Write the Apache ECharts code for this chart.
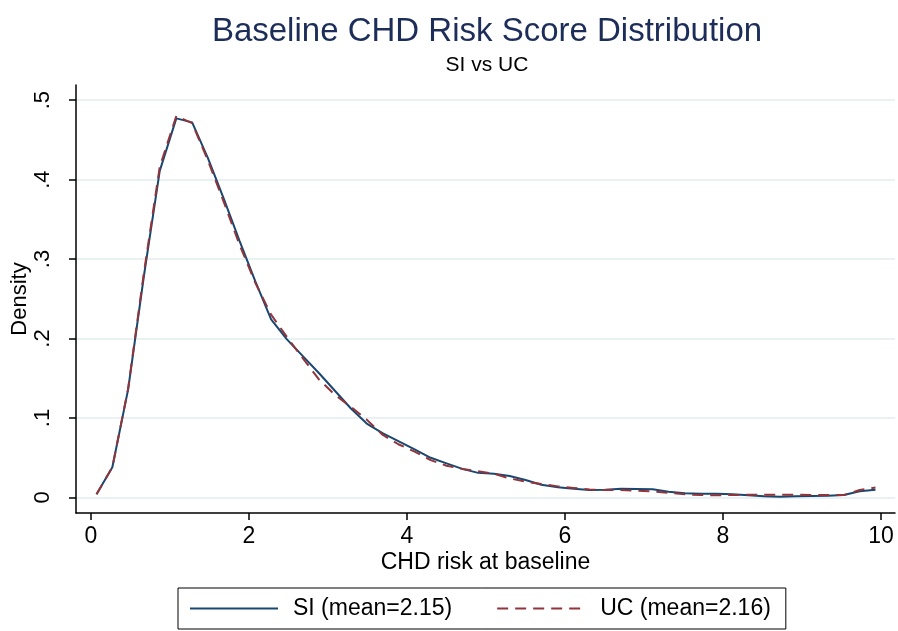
<!DOCTYPE html>
<html>
<head>
<meta charset="utf-8">
<script src="https://cdn.jsdelivr.net/npm/echarts@6/dist/echarts.min.js"></script>
<style>html,body{margin:0;padding:0;background:#fff;}#c{width:898px;height:631px;}</style>
</head>
<body>
<div id="c"></div>
<script>
const xGrid = [0.07,0.27,0.47,0.67,0.87,1.08,1.28,1.48,1.68,1.88,2.08,2.28,2.48,2.69,2.89,3.09,3.29,3.49,3.69,3.89,4.09,4.30,4.50,4.70,4.90,5.10,5.30,5.50,5.70,5.91,6.11,6.31,6.51,6.71,6.91,7.11,7.31,7.52,7.72,7.92,8.12,8.32,8.52,8.72,8.92,9.12,9.33,9.53,9.73,9.93];
const siDensity = [0.004,0.038,0.136,0.279,0.411,0.477,0.472,0.427,0.376,0.323,0.272,0.224,0.199,0.177,0.156,0.134,0.112,0.093,0.081,0.071,0.061,0.050,0.043,0.036,0.031,0.030,0.027,0.022,0.016,0.013,0.011,0.0095,0.0098,0.011,0.0107,0.0103,0.0073,0.0053,0.0048,0.0048,0.004,0.0028,0.0015,0.001,0.0015,0.0019,0.0023,0.0031,0.0078,0.0098];
const ucDensity = [0.004,0.038,0.137,0.283,0.416,0.480,0.471,0.424,0.372,0.318,0.270,0.230,0.202,0.174,0.148,0.129,0.114,0.098,0.079,0.067,0.058,0.047,0.040,0.036,0.033,0.030,0.024,0.020,0.017,0.014,0.012,0.010,0.0094,0.0094,0.0086,0.0075,0.006,0.004,0.0031,0.0028,0.0031,0.0035,0.0035,0.0035,0.0035,0.003,0.003,0.003,0.0094,0.0125];
const xTicks = [0,2,4,6,8,10];
const yTicks = [0,0.1,0.2,0.3,0.4,0.5];
const yTickLabels = {0:'0',0.1:'.1',0.2:'.2',0.3:'.3',0.4:'.4',0.5:'.5'};
const seriesNames = ['SI (mean=2.15)','UC (mean=2.16)'];

const FONT = 'Liberation Sans, Arial, sans-serif';
const chart = echarts.init(document.getElementById('c'), null, {renderer:'canvas'});
const pair = (xs, ys) => xs.map((x,i)=>[x, ys[i]]);
chart.setOption({
  backgroundColor:'#fff',
  animation:false,
  textStyle:{fontFamily:FONT},
  title:[
    {text:'Baseline CHD Risk Score Distribution', left:482, top:10, textAlign:'center',
     textStyle:{fontSize:33, fontWeight:'normal', color:'#1c2d5a', fontFamily:FONT}},
    {text:'SI vs UC', left:482, top:50, textAlign:'center',
     textStyle:{fontSize:21, fontWeight:'normal', color:'#000', fontFamily:FONT}}
  ],
  grid:{left:76, right:3, top:85, bottom:118, containLabel:false, outerBoundsMode:'none'},
  xAxis:{type:'value', min:-0.19, max:10.177,
    name:'CHD risk at baseline', nameLocation:'middle', nameGap:38, nameMoveOverlap:false,
    nameTextStyle:{fontSize:23, color:'#000', fontFamily:FONT},
    axisLine:{show:true, onZero:false, lineStyle:{color:'#000', width:1.5}},
    axisTick:{show:true, length:7, customValues:xTicks, lineStyle:{color:'#000', width:1.5}},
    axisLabel:{customValues:xTicks, margin:12, fontSize:23, color:'#000', fontFamily:FONT},
    splitLine:{show:false}},
  yAxis:{type:'value', min:-0.0195, max:0.519,
    name:'Density', nameLocation:'middle', nameGap:45, nameRotate:90, nameMoveOverlap:false,
    nameTextStyle:{fontSize:22, color:'#000', fontFamily:FONT},
    axisLine:{show:true, onZero:false, lineStyle:{color:'#000', width:1.5}},
    axisTick:{show:true, length:7, customValues:yTicks, lineStyle:{color:'#000', width:1.5}},
    axisLabel:{customValues:yTicks, rotate:90, margin:22, fontSize:22, color:'#000', fontFamily:FONT,
      formatter:v=>yTickLabels[Math.round(v*10)/10] ?? ''},
    splitLine:{show:true, lineStyle:{color:'#eaf1f3', width:2}}},
  legend:{left:178, top:588, orient:'horizontal', itemGap:44, itemWidth:88, itemHeight:14,
    padding:[9,15,9,11], borderColor:'#000', borderWidth:1,
    itemStyle:{opacity:0},
    textStyle:{fontSize:23, color:'#000', fontFamily:FONT, padding:[0,0,0,10]},
    data:seriesNames},
  series:[
    {name:seriesNames[0], type:'line', data:pair(xGrid, siDensity), showSymbol:false, symbol:'none',
     lineStyle:{color:'#1a476f', width:2}, itemStyle:{color:'#1a476f'}, z:2},
    {name:seriesNames[1], type:'line', data:pair(xGrid, ucDensity), showSymbol:false, symbol:'none',
     lineStyle:{color:'#90353b', width:2, type:[11,7]}, itemStyle:{color:'#90353b'}, z:3}
  ]
});
</script>
</body>
</html>
